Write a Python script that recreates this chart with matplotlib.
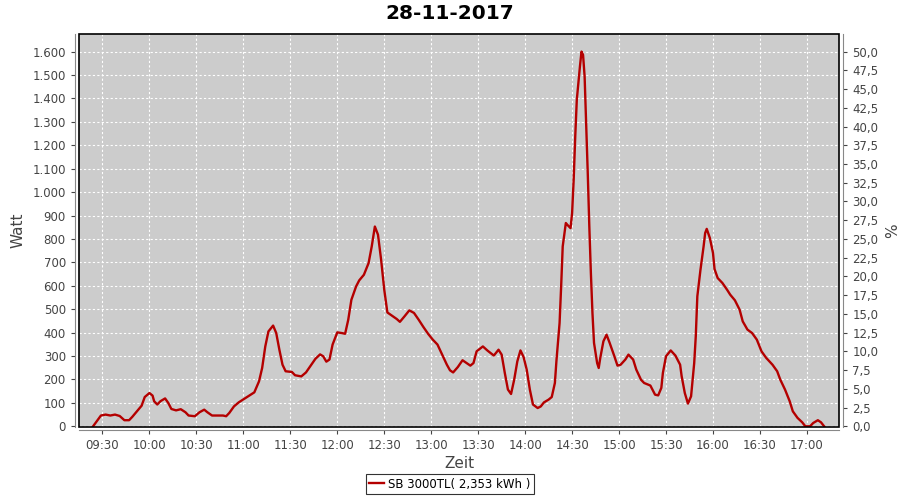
import matplotlib
matplotlib.use("Agg")
import matplotlib.pyplot as plt
import matplotlib.dates as mdates
import matplotlib.ticker as mticker
from matplotlib.patches import Rectangle
import pandas as pd

# power readings (time of day, watt)
times = ["09:24", "09:29", "09:32", "09:35", "09:38", "09:41", "09:44", "09:47", "09:49", "09:52",
         "09:55", "09:57", "10:00", "10:02", "10:03", "10:05", "10:07", "10:10", "10:12", "10:14",
         "10:17", "10:20", "10:23", "10:25", "10:29", "10:32", "10:35", "10:37", "10:40", "10:43",
         "10:47", "10:49", "10:51", "10:54", "10:57", "11:00", "11:04", "11:07", "11:10", "11:12",
         "11:14", "11:16", "11:19", "11:21", "11:23", "11:25", "11:27", "11:31", "11:33", "11:37",
         "11:40", "11:43", "11:46", "11:49", "11:51", "11:53", "11:55", "11:57", "12:00", "12:03",
         "12:05", "12:07", "12:09", "12:12", "12:14", "12:17", "12:20", "12:22", "12:24", "12:26",
         "12:28", "12:30", "12:32", "12:35", "12:38", "12:40", "12:43", "12:46", "12:49", "12:52",
         "12:55", "12:58", "13:01", "13:04", "13:07", "13:10", "13:12", "13:14", "13:17", "13:20",
         "13:22", "13:25", "13:27", "13:29", "13:33", "13:36", "13:40", "13:43", "13:45", "13:47",
         "13:49", "13:51", "13:53", "13:55", "13:57", "13:59", "14:01", "14:03", "14:05", "14:08",
         "14:10", "14:12", "14:15", "14:17", "14:19", "14:20", "14:22", "14:23", "14:24", "14:26",
         "14:27", "14:29", "14:30", "14:31", "14:32", "14:33", "14:35", "14:36", "14:37", "14:38",
         "14:39", "14:40", "14:41", "14:42", "14:43", "14:44", "14:46", "14:47", "14:48", "14:50",
         "14:52", "14:54", "14:57", "14:59", "15:01", "15:04", "15:06", "15:09", "15:11", "15:14",
         "15:16", "15:20", "15:23", "15:25", "15:27", "15:28", "15:30", "15:33", "15:36", "15:39",
         "15:40", "15:42", "15:44", "15:46", "15:48", "15:49", "15:50", "15:52", "15:54", "15:55",
         "15:56", "15:58", "16:00", "16:01", "16:03", "16:06", "16:09", "16:11", "16:14", "16:17",
         "16:19", "16:22", "16:25", "16:28", "16:31", "16:34", "16:38", "16:41", "16:43", "16:46",
         "16:49", "16:51", "16:54", "16:57", "16:59", "17:02", "17:04", "17:07", "17:09", "17:11"]
watt = [0, 46, 50, 46, 50, 44, 26, 26, 40, 64,
        88, 125, 142, 131, 107, 93, 107, 119, 100, 74,
        68, 73, 60, 46, 43, 60, 71, 60, 46, 46,
        46, 43, 57, 85, 102, 115, 132, 145, 192, 249,
        341, 405, 430, 398, 327, 263, 235, 232, 218, 213,
        230, 259, 288, 307, 299, 276, 285, 349, 401, 398,
        395, 455, 540, 597, 623, 647, 697, 768, 853, 818,
        711, 583, 486, 472, 458, 446, 470, 495, 484, 455,
        424, 395, 370, 349, 306, 263, 239, 230, 253, 282,
        273, 259, 270, 320, 341, 323, 302, 327, 306, 228,
        157, 138, 199, 277, 324, 296, 242, 157, 93, 78,
        85, 102, 114, 125, 185, 280, 441, 597, 768, 868,
        860, 846, 910, 1052, 1237, 1394, 1536, 1600, 1586, 1493,
        1294, 1081, 853, 654, 484, 356, 270, 249, 292, 363,
        391, 356, 299, 259, 263, 285, 306, 285, 242, 199,
        185, 174, 135, 132, 164, 228, 299, 324, 302, 263,
        213, 142, 97, 128, 270, 384, 555, 668, 768, 825,
        843, 804, 740, 671, 633, 612, 583, 562, 538, 498,
        448, 413, 398, 370, 320, 292, 263, 235, 199, 157,
        107, 64, 36, 17, 0, 0, 14, 26, 17, 0]

day = "2017-11-28"
title = "28-11-2017"
legend_label = "SB 3000TL( 2,353 kWh )"
peak_watt = 3200  # 100 % on the right axis

t = pd.to_datetime([day + " " + s for s in times])

fig = plt.figure(figsize=(9, 5), dpi=100)
ax = fig.add_axes([79/900, 1 - 427/500, (839 - 79)/900, (427 - 34)/500])
ax.set_facecolor("#cccccc")

line, = ax.plot(t, watt, color="#b40000", lw=1.7)

ax.set_xlim(pd.Timestamp(day + " 09:15"), pd.Timestamp(day + " 17:20:30"))
ax.set_ylim(-3, 1675)
ax.xaxis.set_major_locator(mdates.MinuteLocator(byminute=[0, 30]))
ax.xaxis.set_major_formatter(mdates.DateFormatter("%H:%M"))
ax.yaxis.set_major_locator(mticker.MultipleLocator(100))
ax.yaxis.set_major_formatter(mticker.FuncFormatter(lambda v, p: f"{v:,.0f}".replace(",", ".")))
ax.grid(True, color="white", ls=(0, (2, 2)), lw=0.8)

ax2 = ax.twinx()
ax2.set_ylim(-3 * 100 / peak_watt, 1675 * 100 / peak_watt)
ax2.yaxis.set_major_locator(mticker.MultipleLocator(2.5))
ax2.yaxis.set_major_formatter(mticker.FuncFormatter(lambda v, p: f"{v:.1f}".replace(".", ",")))

# gray axis lines set slightly apart, black border round the plot
for a in (ax, ax2):
    a.tick_params(labelsize=8.5, colors="#444444", length=3, width=0.8)
    for s in a.spines.values():
        s.set_visible(False)
ax.spines["left"].set_visible(True)
ax.spines["left"].set_position(("outward", 3))
ax.spines["bottom"].set_visible(True)
ax.spines["bottom"].set_position(("outward", 2))
ax2.spines["right"].set_visible(True)
ax2.spines["right"].set_position(("outward", 3))
for s in (ax.spines["left"], ax.spines["bottom"], ax2.spines["right"]):
    s.set_color("#888888")
ax2.add_patch(Rectangle((0, 0), 1, 1, transform=ax2.transAxes, fill=False,
                        ec="black", lw=1.2, zorder=5, clip_on=False))

ax.set_xlabel("Zeit", fontsize=11, color="#444444", labelpad=3)
ax.set_ylabel("Watt", fontsize=11, color="#444444", labelpad=5)
ax2.set_ylabel("%", fontsize=11, color="#444444", labelpad=5)

fig.suptitle(title, x=0.5, y=0.992, fontsize=14.5, fontweight="bold")

fig.legend([line], [legend_label], loc="lower center", bbox_to_anchor=(0.5, 0.0),
           fontsize=8.5, frameon=True, fancybox=False, edgecolor="black",
           handlelength=1.2, borderpad=0.3, handletextpad=0.4).get_frame().set_linewidth(0.8)

fig.savefig("out.png", dpi=100)
